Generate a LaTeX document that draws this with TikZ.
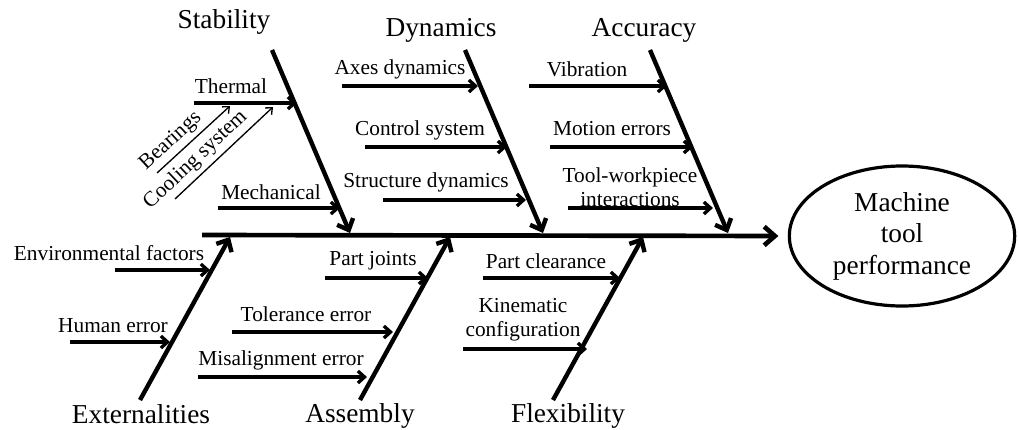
\documentclass[tikz,border=0pt]{standalone}
\usepackage{fontspec}
\setmainfont{Liberation Serif}
\usepackage{tikz}
\usetikzlibrary{arrows.meta}
\usetikzlibrary{shapes.geometric}
\tikzset{
	bonestyle/.style={line width=3.3pt,-{Straight Barb[length=7pt,width=13pt]}},
	causestyle/.style={line width=2.5pt,-{Straight Barb[length=5pt,width=9pt]}},
	thinstyle/.style={line width=1pt,-{Straight Barb[length=4pt,width=7pt]}},
	headstyle/.style={inner sep=0pt,font=\fontsize{20.5}{24}\selectfont},
	labelstyle/.style={inner sep=0pt,font=\fontsize{16}{18}\selectfont,align=center},
	effectstyle/.style={ellipse,draw=black,line width=2.4pt,minimum width=169pt,minimum height=105pt,inner sep=0pt,align=center,font=\fontsize{20.5}{23.6}\selectfont}
}
\begin{document}
\begin{tikzpicture}[x=0.75pt,y=-0.75pt]
	\useasboundingbox (0,0) rectangle (1019,429);
	\node[effectstyle] (perf) at (902,236) {Machine\\tool\\performance};
	\coordinate (spine) at (202,235);
	\coordinate (stabtop) at (272,50);
	\coordinate (stabfoot) at (350,233);
	\coordinate (dyntop) at (465,50);
	\coordinate (dynfoot) at (543,233);
	\coordinate (acctop) at (650,50);
	\coordinate (accfoot) at (728,233);
	\coordinate (extbase) at (140,400);
	\coordinate (exthead) at (230,237);
	\coordinate (asmbase) at (360,400);
	\coordinate (asmhead) at (450,237);
	\coordinate (flexbase) at (553,400);
	\coordinate (flexhead) at (643,237);
	\node[headstyle] (stab) at (224,22) {Stability};
	\node[headstyle] (dyn) at (441,30) {Dynamics};
	\node[headstyle] (acc) at (644,30) {Accuracy};
	\node[headstyle] (ext) at (141,414) {Externalities};
	\node[headstyle] (asm) at (360,416) {Assembly};
	\node[headstyle] (flex) at (568,416) {Flexibility};
	\node[labelstyle] (therm) at (231,86) {Thermal};
	\node[labelstyle] (mech) at (271,192) {Mechanical};
	\node[labelstyle] (axes) at (400,69) {Axes dynamics};
	\node[labelstyle] (ctrl) at (420,130) {Control system};
	\node[labelstyle] (struct) at (426,182) {Structure dynamics};
	\node[labelstyle] (vib) at (587,69) {Vibration};
	\node[labelstyle] (motion) at (612,129) {Motion errors};
	\node[labelstyle] (toolwp) at (630,187) {Tool-workpiece\\interactions};
	\node[labelstyle] (env) at (109,253) {Environmental factors};
	\node[labelstyle] (human) at (113,326) {Human error};
	\node[labelstyle] (joints) at (373,261) {Part joints};
	\node[labelstyle] (tol) at (306,314) {Tolerance error};
	\node[labelstyle] (misal) at (281,360) {Misalignment error};
	\node[labelstyle] (clear) at (546,261) {Part clearance};
	\node[labelstyle] (kin) at (523,320) {Kinematic\\configuration};
	\draw[bonestyle,line width=3.5pt,-{Straight Barb[length=8pt,width=14pt]},shorten >=7pt] (spine) -- (perf.west);
	\draw[bonestyle] (stabtop) -- (stabfoot);
	\draw[bonestyle] (dyntop) -- (dynfoot);
	\draw[bonestyle] (acctop) -- (accfoot);
	\draw[bonestyle] (extbase) -- (exthead);
	\draw[bonestyle] (asmbase) -- (asmhead);
	\draw[bonestyle] (flexbase) -- (flexhead);
	\draw[causestyle] (194,103) coordinate (thermA) -- (297,103) coordinate (thermB);
	\draw[causestyle] (218,208) coordinate (mechA) -- (340,208) coordinate (mechB);
	\draw[thinstyle] (157,173) coordinate (bearA) -- node[labelstyle,sloped,above=3pt,pos=0.32] (bear) {Bearings} (230,106) coordinate (bearB);
	\draw[thinstyle] (175,199) coordinate (coolA) -- node[labelstyle,sloped,above=3pt,pos=0.31] (cool) {Cooling system} (273,107) coordinate (coolB);
	\draw[causestyle] (342,86) coordinate (axesA) -- (478,86) coordinate (axesB);
	\draw[causestyle] (365,147) coordinate (ctrlA) -- (507,147) coordinate (ctrlB);
	\draw[causestyle] (383,200) coordinate (structA) -- (526,200) coordinate (structB);
	\draw[causestyle] (529,86) coordinate (vibA) -- (667,86) coordinate (vibB);
	\draw[causestyle] (550,147) coordinate (motionA) -- (693,147) coordinate (motionB);
	\draw[causestyle] (568,208) coordinate (toolwpA) -- (713,208) coordinate (toolwpB);
	\draw[causestyle] (115,270) coordinate (envA) -- (210,270) coordinate (envB);
	\draw[causestyle] (70,342) coordinate (humanA) -- (170,342) coordinate (humanB);
	\draw[causestyle] (325,278) coordinate (jointsA) -- (428,278) coordinate (jointsB);
	\draw[causestyle] (232,332) coordinate (tolA) -- (393,332) coordinate (tolB);
	\draw[causestyle] (198,377) coordinate (misalA) -- (367,377) coordinate (misalB);
	\draw[causestyle] (483,278) coordinate (clearA) -- (620,278) coordinate (clearB);
	\draw[causestyle] (463,349) coordinate (kinA) -- (587,349) coordinate (kinB);
\end{tikzpicture}
\end{document}
